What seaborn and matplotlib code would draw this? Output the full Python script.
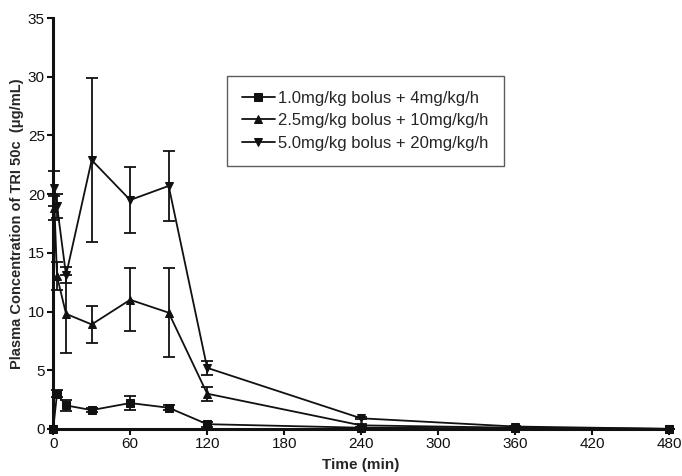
import matplotlib
matplotlib.use("Agg")
import matplotlib.pyplot as plt
import seaborn as sns
import pandas as pd

# dose groups
labels = ["1.0mg/kg bolus + 4mg/kg/h",
          "2.5mg/kg bolus + 10mg/kg/h",
          "5.0mg/kg bolus + 20mg/kg/h"]

t1 = [0, 3, 10, 30, 60, 90, 120, 240, 360, 480]
c1 = [0, 3.0, 2.0, 1.6, 2.2, 1.8, 0.4, 0.1, 0.05, 0.0]
e1 = [0, 0.3, 0.5, 0.2, 0.6, 0.2, 0.2, 0.05, 0.05, 0]

t2 = [0, 1, 3, 10, 30, 60, 90, 120, 240, 360, 480]
c2 = [0, 18.8, 13.0, 9.8, 8.9, 11.0, 9.9, 3.0, 0.3, 0.1, 0.0]
e2 = [0, 1.0, 1.2, 3.3, 1.6, 2.7, 3.8, 0.6, 0.1, 0.05, 0]

t3 = [0, 1, 3, 10, 30, 60, 90, 120, 240, 360, 480]
c3 = [0, 20.5, 19.0, 13.1, 22.9, 19.5, 20.7, 5.2, 0.9, 0.2, 0.0]
e3 = [0, 1.5, 1.0, 0.7, 7.0, 2.8, 3.0, 0.6, 0.1, 0.05, 0]

xticks = [0, 60, 120, 180, 240, 300, 360, 420, 480]
yticks = [0, 5, 10, 15, 20, 25, 30, 35]

sns.set_style("ticks")
plt.rcParams['font.family'] = ['Liberation Sans', 'DejaVu Sans']

fig = plt.figure(figsize=(6.82, 4.76), dpi=100)
ax = fig.add_axes([0.078, 0.099, 0.903, 0.863])

groups = [(t1, c1, e1, "s"), (t2, c2, e2, "^"), (t3, c3, e3, "v")]
for (t, c, e, m), lab in zip(groups, labels):
    d = pd.DataFrame({"t": t, "c": c})
    sns.lineplot(data=d, x="t", y="c", ax=ax, color="#111111", marker=m,
                 markersize=6, markeredgecolor="#111111", linewidth=1.3,
                 label=lab, clip_on=False)
    ax.errorbar(t, c, yerr=e, fmt="none", ecolor="#111111", elinewidth=1.3,
                capsize=4, capthick=1.3, clip_on=False)

ax.set_xlim(0, 480)
ax.set_ylim(0, 35)
ax.set_xticks(xticks)
ax.set_yticks(yticks)
ax.tick_params(labelsize=11, width=1.5, length=4, colors="#111111", pad=2)
for s in ["top", "right"]:
    ax.spines[s].set_visible(False)
for s in ["left", "bottom"]:
    ax.spines[s].set_linewidth(2.2)
    ax.spines[s].set_color("#111111")

ax.set_xlabel("Time (min)", fontsize=11, fontweight="bold", labelpad=5)
ax.set_ylabel("Plasma Concentration of TRI 50c  (\u03bcg/mL)", fontsize=10.5,
              fontweight="bold", labelpad=3)

leg = ax.legend(loc="upper left", bbox_to_anchor=(0.268, 0.88), fontsize=12,
                frameon=True, fancybox=False, edgecolor="#333333",
                handlelength=2.0, handletextpad=0.2, borderpad=0.9,
                labelspacing=0.45)
leg.get_frame().set_linewidth(1.0)

fig.savefig("out.png", dpi=100)
